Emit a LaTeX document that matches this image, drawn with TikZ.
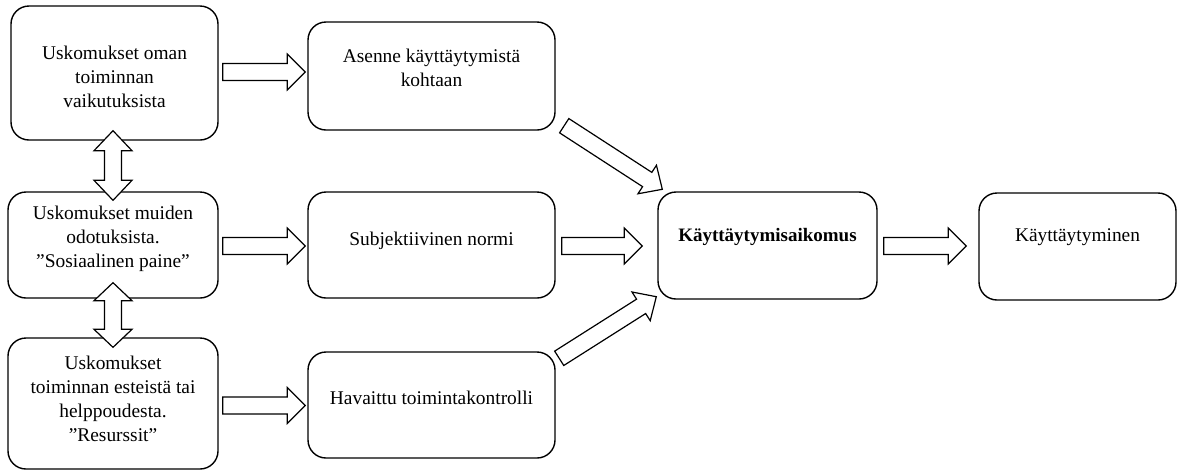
\documentclass[tikz,border=0pt]{standalone}
\usepackage{fontspec}
\setmainfont{Liberation Serif}
\usetikzlibrary{calc}
\tikzset{
  box/.style={draw, line width=1.4pt, rounded corners=18pt, inner sep=0pt},
  txt/.style={align=center, inner sep=0pt, font=\fontsize{19.4}{24}\selectfont},
  blk/.style={draw, fill=white, line width=1.2pt, line join=miter},
}
\newcommand{\blockarrow}[5]{%
  \path coordinate (ba-h) at ($(#2)!#5!(#1)$);
  \draw[blk] ($(#1)!#3!90:(#2)$) -- ($(ba-h)!#3!90:(#2)$) -- ($(ba-h)!#4!90:(#2)$) -- (#2)
    -- ($(ba-h)!#4!-90:(#2)$) -- ($(ba-h)!#3!-90:(#2)$) -- ($(#1)!#3!-90:(#2)$) -- cycle;
}
\newcommand{\dblarrow}[5]{%
  \path coordinate (da-a) at ($(#1)!#5!(#2)$) coordinate (da-b) at ($(#2)!#5!(#1)$);
  \draw[blk] (#1) -- ($(da-a)!#4!90:(#2)$) -- ($(da-a)!#3!90:(#2)$) -- ($(da-b)!#3!90:(#2)$)
    -- ($(da-b)!#4!90:(#2)$) -- (#2) -- ($(da-b)!#4!-90:(#2)$) -- ($(da-b)!#3!-90:(#2)$)
    -- ($(da-a)!#3!-90:(#2)$) -- ($(da-a)!#4!-90:(#2)$) -- cycle;
}
\begin{document}
\begin{tikzpicture}[x=1pt,y=-1pt]
\useasboundingbox (0,0) rectangle (1177,472);
% boxes
\node[box, minimum width=207pt, minimum height=134pt] (A) at (114.5,73) {};
\node[box, minimum width=210pt, minimum height=106pt] (B) at (113,245) {};
\node[box, minimum width=210pt, minimum height=131pt] (C) at (113,403.5) {};
\node[box, minimum width=247pt, minimum height=108pt] (D) at (431.5,76) {};
\node[box, minimum width=247pt, minimum height=106pt] (E) at (431.5,245) {};
\node[box, minimum width=247pt, minimum height=106pt] (F) at (431.5,405) {};
\node[box, minimum width=219pt, minimum height=107pt] (G) at (767.5,245.5) {};
\node[box, minimum width=197pt, minimum height=107pt] (H) at (1077.5,246.5) {};
% texts
\node[txt] (At) at (114.5,77) {Uskomukset oman\\toiminnan\\vaikutuksista};
\node[txt] (Bt) at (113,239) {Uskomukset muiden\\odotuksista.\\”Sosiaalinen paine”};
\node[txt] (Ct) at (113,399) {Uskomukset\\toiminnan esteistä tai\\helppoudesta.\\”Resurssit”};
\node[txt] (Dt) at (431.5,68) {Asenne käyttäytymistä\\kohtaan};
\node[txt] (Et) at (431.5,241) {Subjektiivinen normi};
\node[txt] (Ft) at (431.5,398) {Havaittu toimintakontrolli};
\node[txt, font=\fontsize{19}{24}\selectfont\bfseries] (Gt) at (767.5,237) {Käyttäytymisaikomus};
\node[txt] (Ht) at (1077.5,237) {Käyttäytyminen};
% arrow end points
\coordinate (a1) at ($(A.east)+(4,-1)$);
\coordinate (a2) at ($(a1 -| D.west)+(-2,0)$);
\coordinate (b1) at ($(B.east)+(4,1)$);
\coordinate (b2) at ($(b1 -| E.west)+(-2,0)$);
\coordinate (c1) at ($(C.east)+(4,2)$);
\coordinate (c2) at ($(c1 -| F.west)+(-2,0)$);
\coordinate (e1) at ($(E.east)+(6,1)$);
\coordinate (e2) at ($(e1 -| G.west)+(-15,0)$);
\coordinate (g1) at ($(G.east)+(6,0.5)$);
\coordinate (g2) at ($(g1 -| H.west)+(-12,0)$);
\coordinate (d1) at ($(D.south east)+(8.5,-5)$);
\coordinate (d2) at ($(G.north west)+(5,-2)$);
\coordinate (f1) at ($(F.north east)+(3.5,7)$);
\coordinate (f2) at ($(G.south west)+(-1,-3)$);
\coordinate (ab1) at ($(A.south)+(-1.5,-10)$);
\coordinate (ab2) at ($(B.north)+(0,9)$);
\coordinate (bc1) at ($(B.south)+(0,-16)$);
\coordinate (bc2) at ($(C.north)+(0,10)$);
% arrows
\blockarrow{a1}{a2}{8.5pt}{18pt}{18pt}
\blockarrow{b1}{b2}{8.5pt}{18pt}{18pt}
\blockarrow{c1}{c2}{8.5pt}{18pt}{18pt}
\blockarrow{e1}{e2}{8.5pt}{18pt}{18pt}
\blockarrow{g1}{g2}{8.5pt}{18pt}{18pt}
\blockarrow{d1}{d2}{8.5pt}{17pt}{18pt}
\blockarrow{f1}{f2}{8.5pt}{17pt}{18pt}
\dblarrow{ab1}{ab2}{8.5pt}{19pt}{20pt}
\dblarrow{bc1}{bc2}{8.5pt}{19pt}{18pt}
\end{tikzpicture}
\end{document}
